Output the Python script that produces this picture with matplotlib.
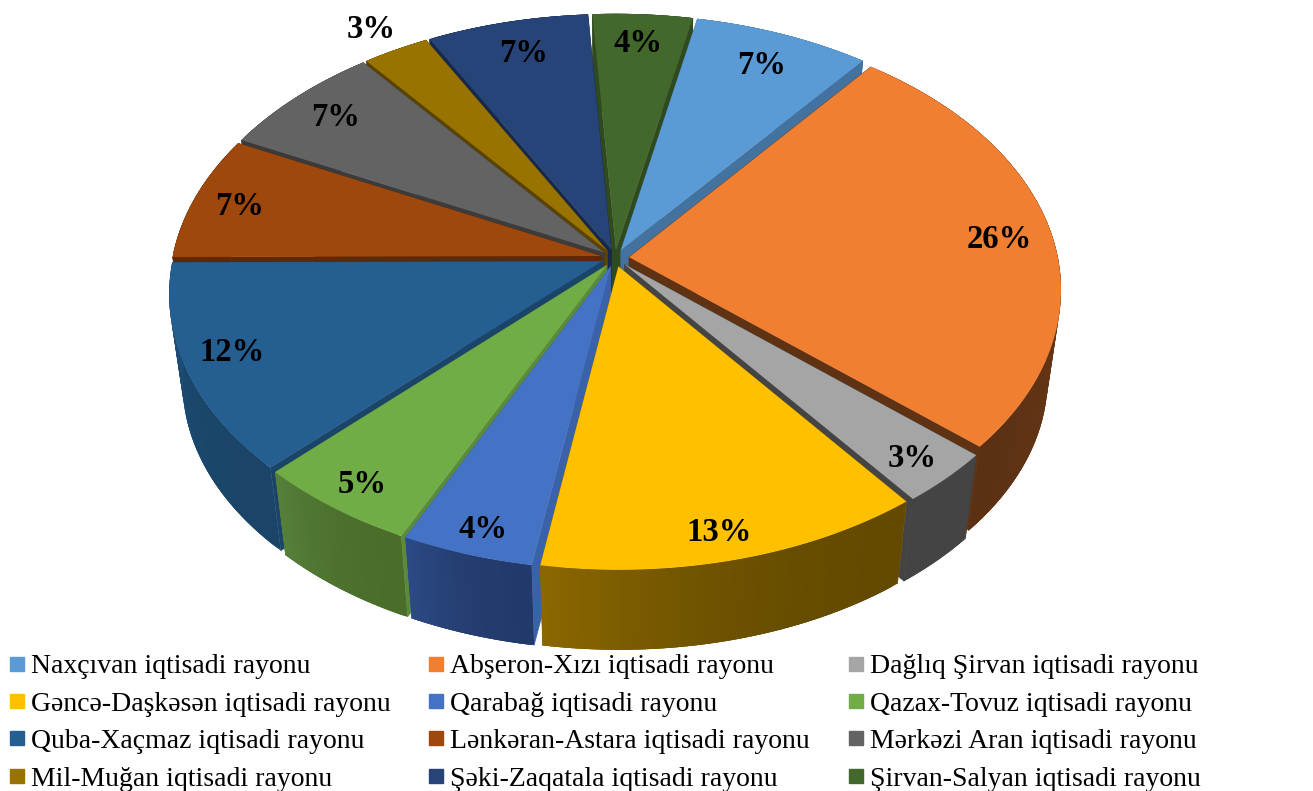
# 3D style exploded pie of the economic regions, drawn by hand with a small perspective projection
import numpy as np
from matplotlib import pyplot as plt
from matplotlib.colors import to_rgb
from matplotlib.collections import PolyCollection
from matplotlib.lines import Line2D

regions = [
  "Naxçıvan iqtisadi rayonu", "Abşeron-Xızı iqtisadi rayonu", "Dağlıq Şirvan iqtisadi rayonu",
  "Gəncə-Daşkəsən iqtisadi rayonu", "Qarabağ iqtisadi rayonu", "Qazax-Tovuz iqtisadi rayonu",
  "Quba-Xaçmaz iqtisadi rayonu", "Lənkəran-Astara iqtisadi rayonu", "Mərkəzi Aran iqtisadi rayonu",
  "Mil-Muğan iqtisadi rayonu", "Şəki-Zaqatala iqtisadi rayonu", "Şirvan-Salyan iqtisadi rayonu",
]
shares = [7.4, 25.8, 3.2, 12.9, 4.4, 5.45, 12.49, 7.45, 7.0, 2.8, 6.8, 4.2]

colors = ["#5b9bd5", "#f07f32", "#a5a5a5", "#ffc000", "#4472c4", "#70ad47",
          "#255e91", "#9e480e", "#636363", "#997300", "#264478", "#43682b"]
# outer wall colours, at the clockwise start and end of each slice
side_start = ["#44729f", "#6b3a17", "#444444", "#634a00", "#223a6b", "#4a6d2a",
              "#1a4568", "#5b2a08", "#3a3a3a", "#5a4400", "#16294a", "#2f4a1e"]
side_end = ["#44729f", "#5b3013", "#444444", "#8b6700", "#2c4a85", "#56803a",
            "#1e4e79", "#5b2a08", "#3a3a3a", "#5a4400", "#16294a", "#2f4a1e"]
# flat cut faces
cut_colors = ["#44729f", "#5f3214", "#444444", "#8b6700", "#3a62a8", "#5a8a3a",
              "#1a4568", "#5b2a08", "#3c3c3c", "#5a4400", "#16294a", "#2f4a1e"]

# where each percent label sits: fraction of the radius, and a small turn in degrees
label_r = [0.86, 0.88, 0.905, 0.91, 0.915, 0.905, 0.89, 0.893, 0.875, 1.125, 0.866, 0.88]
label_turn = [0, 0, 0, 0.6, -0.3, 0, 1.5, 0, 0.4, 0, 0.6, -0.3]

start_angle = 11.6
cx, cy = 615, 258
Rx, Ry = 443, 274
k = 0.122            # perspective strength
explode = 0.032
thick_s = 0.97       # bottom ring shrinks towards the vanishing point
vx, vy = 615, 3237


def project(u, v, bottom=False):
  w = 1 - k * v
  x = cx + Rx * u / w
  y = cy + Ry * v / w
  if bottom:
    x = vx + (x - vx) * thick_s
    y = vy + (y - vy) * thick_s
  return np.column_stack([x, y])


def mix(c1, c2, t):
  a, b = np.array(to_rgb(c1)), np.array(to_rgb(c2))
  return tuple(a + (b - a) * t)


fig = plt.figure(figsize=(13.13, 7.91), dpi=100)
ax = fig.add_axes([0, 0, 1, 1])
ax.set_xlim(0, 1313)
ax.set_ylim(791, 0)
ax.axis("off")

edges = start_angle + np.concatenate([[0], np.cumsum(shares)]) * 360 / sum(shares)
mids = (edges[:-1] + edges[1:]) / 2

# back slices first, so the front ones paint over them
order = sorted(range(len(shares)), key=lambda i: -np.cos(np.radians(mids[i])))

zorder = 2
for i in order:
  mid = np.radians(mids[i])
  off_u, off_v = explode * np.sin(mid), -explode * np.cos(mid)
  a = np.radians(np.linspace(edges[i], edges[i + 1], 60))
  r = 1 - explode
  u = off_u + r * np.sin(a)
  v = off_v - r * np.cos(a)

  top = project(u, v)
  low = project(u, v, bottom=True)
  tip_top = project(np.array([off_u]), np.array([off_v]))
  tip_low = project(np.array([off_u]), np.array([off_v]), bottom=True)

  # cut faces
  walls = [
    np.vstack([tip_top, top[0], low[0], tip_low]),
    np.vstack([tip_top, top[-1], low[-1], tip_low]),
  ]
  ax.add_collection(PolyCollection(walls, facecolors=cut_colors[i], edgecolors=cut_colors[i],
                                   linewidths=0.4, zorder=zorder))
  zorder += 1

  # outer wall, in small overlapping strips for the shading (no seams that way)
  n = len(a)
  for j in range(n - 1):
    last = min(j + 3, n - 1)
    strip = np.vstack([top[j:last + 1], low[j:last + 1][::-1]])
    t = (j / (n - 2)) ** 2
    ax.fill(*strip.T, color=mix(side_start[i], side_end[i], t), lw=0, zorder=zorder)
  zorder += 1

  # top face
  ax.fill(*np.vstack([tip_top, top]).T, color=colors[i], lw=0, zorder=zorder)
  zorder += 1

# percent labels
for i, share in enumerate(shares):
  ang = np.radians(mids[i] + label_turn[i])
  pos = project(np.array([label_r[i] * np.sin(ang)]), np.array([-label_r[i] * np.cos(ang)]))[0]
  ax.text(pos[0], pos[1] + 3, f"{share:.0f}%", ha="center", va="center", fontsize=23.5,
          fontweight="bold", family="Liberation Serif", color="black", zorder=100)

# legend is filled column by column, the picture reads row by row
handles = [Line2D([], [], ls="none", marker="s", ms=10, color=c, label=name)
           for c, name in zip(colors, regions)]
column_order = [i for col in range(3) for i in range(col, len(regions), 3)]
ax.legend([handles[i] for i in column_order], [regions[i] for i in column_order],
          ncols=3, loc="lower left", bbox_to_anchor=(3, 791.5), bbox_transform=ax.transData,
          frameon=False, prop={"family": "Liberation Serif", "size": 20},
          handlelength=1, handletextpad=0, columnspacing=1.15, labelspacing=0.43,
          borderpad=0, borderaxespad=0)

fig.savefig("out.png", dpi=100)
